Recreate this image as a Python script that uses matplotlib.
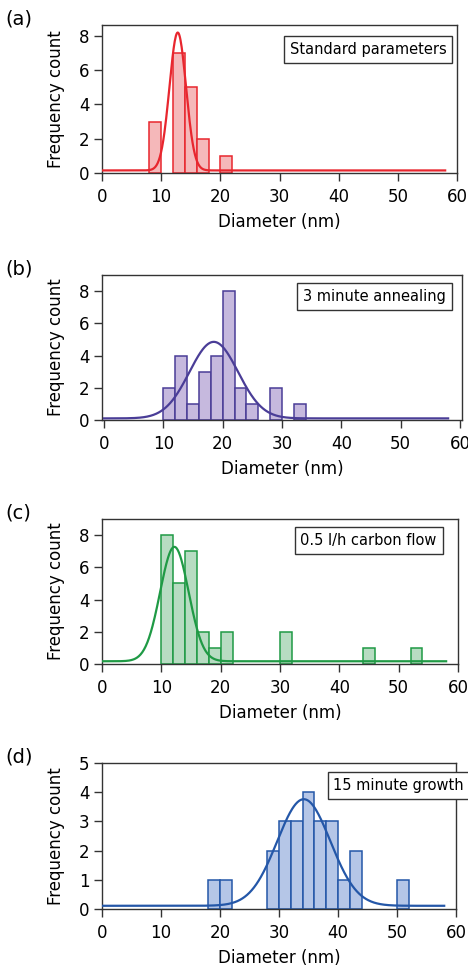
import numpy as np
import matplotlib
matplotlib.use('Agg')
import matplotlib.pyplot as plt

plt.rcParams['font.family'] = ['DejaVu Sans']

W, H = 468, 968

# histogram bins (left edges, nm) and counts per panel
bins_a = [8, 12, 14, 16, 20]
counts_a = [3, 7, 5, 2, 1]

bins_b = [10, 12, 14, 16, 18, 20, 22, 24, 28, 32]
counts_b = [2, 4, 1, 3, 4, 8, 2, 1, 2, 1]

bins_c = [10, 12, 14, 16, 18, 20, 30, 44, 52]
counts_c = [8, 5, 7, 2, 1, 2, 2, 1, 1]

bins_d = [18, 20, 28, 30, 32, 34, 36, 38, 40, 42, 50]
counts_d = [1, 1, 2, 3, 3, 4, 3, 3, 1, 2, 1]

# gaussian fit parameters: baseline, amplitude, centre, sigma
fit_a = (0.15, 8.05, 12.8, 1.4)
fit_b = (0.1, 4.75, 18.5, 4.1)
fit_c = (0.17, 7.1, 12.2, 2.4)
fit_d = (0.11, 3.65, 34.2, 4.5)

labels = ['(a)', '(b)', '(c)', '(d)']
titles = ['Standard parameters', '3 minute annealing', '0.5 l/h carbon flow', '15 minute growth']

line_colors = ['#e8262e', '#4a3d97', '#1f9a45', '#2457a8']
fill_colors = ['#f5b8ba', '#c6b9de', '#b7dcc2', '#b5c6e7']

# layout in pixels: left, right, top, bottom, xlim, ylim, yticks, box centre (axes fraction)
panels = [
    (102, 457, 25, 173, (0, 60), (0, 8.64), [0, 2, 4, 6, 8], (0.750, 0.833)),
    (102, 462, 275, 420, (-0.34, 60.34), (0, 9.0), [0, 2, 4, 6, 8], (0.757, 0.850)),
    (102, 458, 519, 664, (0, 60), (0, 9.0), [0, 2, 4, 6, 8], (0.749, 0.852)),
    (102, 456, 763, 909, (0, 60), (0, 5.0), [0, 1, 2, 3, 4, 5], (0.838, 0.846)),
]

data = [(bins_a, counts_a, fit_a), (bins_b, counts_b, fit_b),
        (bins_c, counts_c, fit_c), (bins_d, counts_d, fit_d)]

fig = plt.figure(figsize=(W / 100, H / 100), dpi=100)

for i, (l, r, t, b, xl, yl, yt, boxpos) in enumerate(panels):
    ax = fig.add_axes([l / W, 1 - b / H, (r - l) / W, (b - t) / H])
    bins, counts, fit = data[i]
    ax.bar(bins, counts, width=2, align='edge', color=fill_colors[i],
           edgecolor=line_colors[i], linewidth=1.1, zorder=2)
    x = np.linspace(0, 58, 600)
    y0, A, mu, s = fit
    ax.plot(x, y0 + A * np.exp(-(x - mu) ** 2 / (2 * s ** 2)),
            color=line_colors[i], linewidth=1.6, zorder=3)
    ax.set_xlim(*xl)
    ax.set_ylim(*yl)
    ax.set_xticks([0, 10, 20, 30, 40, 50, 60])
    ax.set_yticks(yt)
    ax.tick_params(axis='x', direction='out', length=6, width=1, labelsize=12,
                   color='#333333', pad=5)
    ax.tick_params(axis='y', direction='out', length=6, width=1, labelsize=12,
                   color='#333333', pad=3)
    for sp in ax.spines.values():
        sp.set_color('#333333')
        sp.set_linewidth(1.0)
    ax.set_xlabel('Diameter (nm)', fontsize=12, labelpad=5)
    ax.set_ylabel('Frequency count', fontsize=12, labelpad=10)
    ax.text(boxpos[0], boxpos[1], titles[i], transform=ax.transAxes,
            ha='center', va='center', fontsize=10.5, zorder=5, clip_on=False,
            bbox=dict(boxstyle='square,pad=0.4', facecolor='white',
                      edgecolor='#333333', linewidth=1.0))
    fig.text(5 / W, 1 - (t - 6) / H, labels[i], fontsize=14,
             ha='left', va='center')

fig.savefig('out.png', dpi=100)
